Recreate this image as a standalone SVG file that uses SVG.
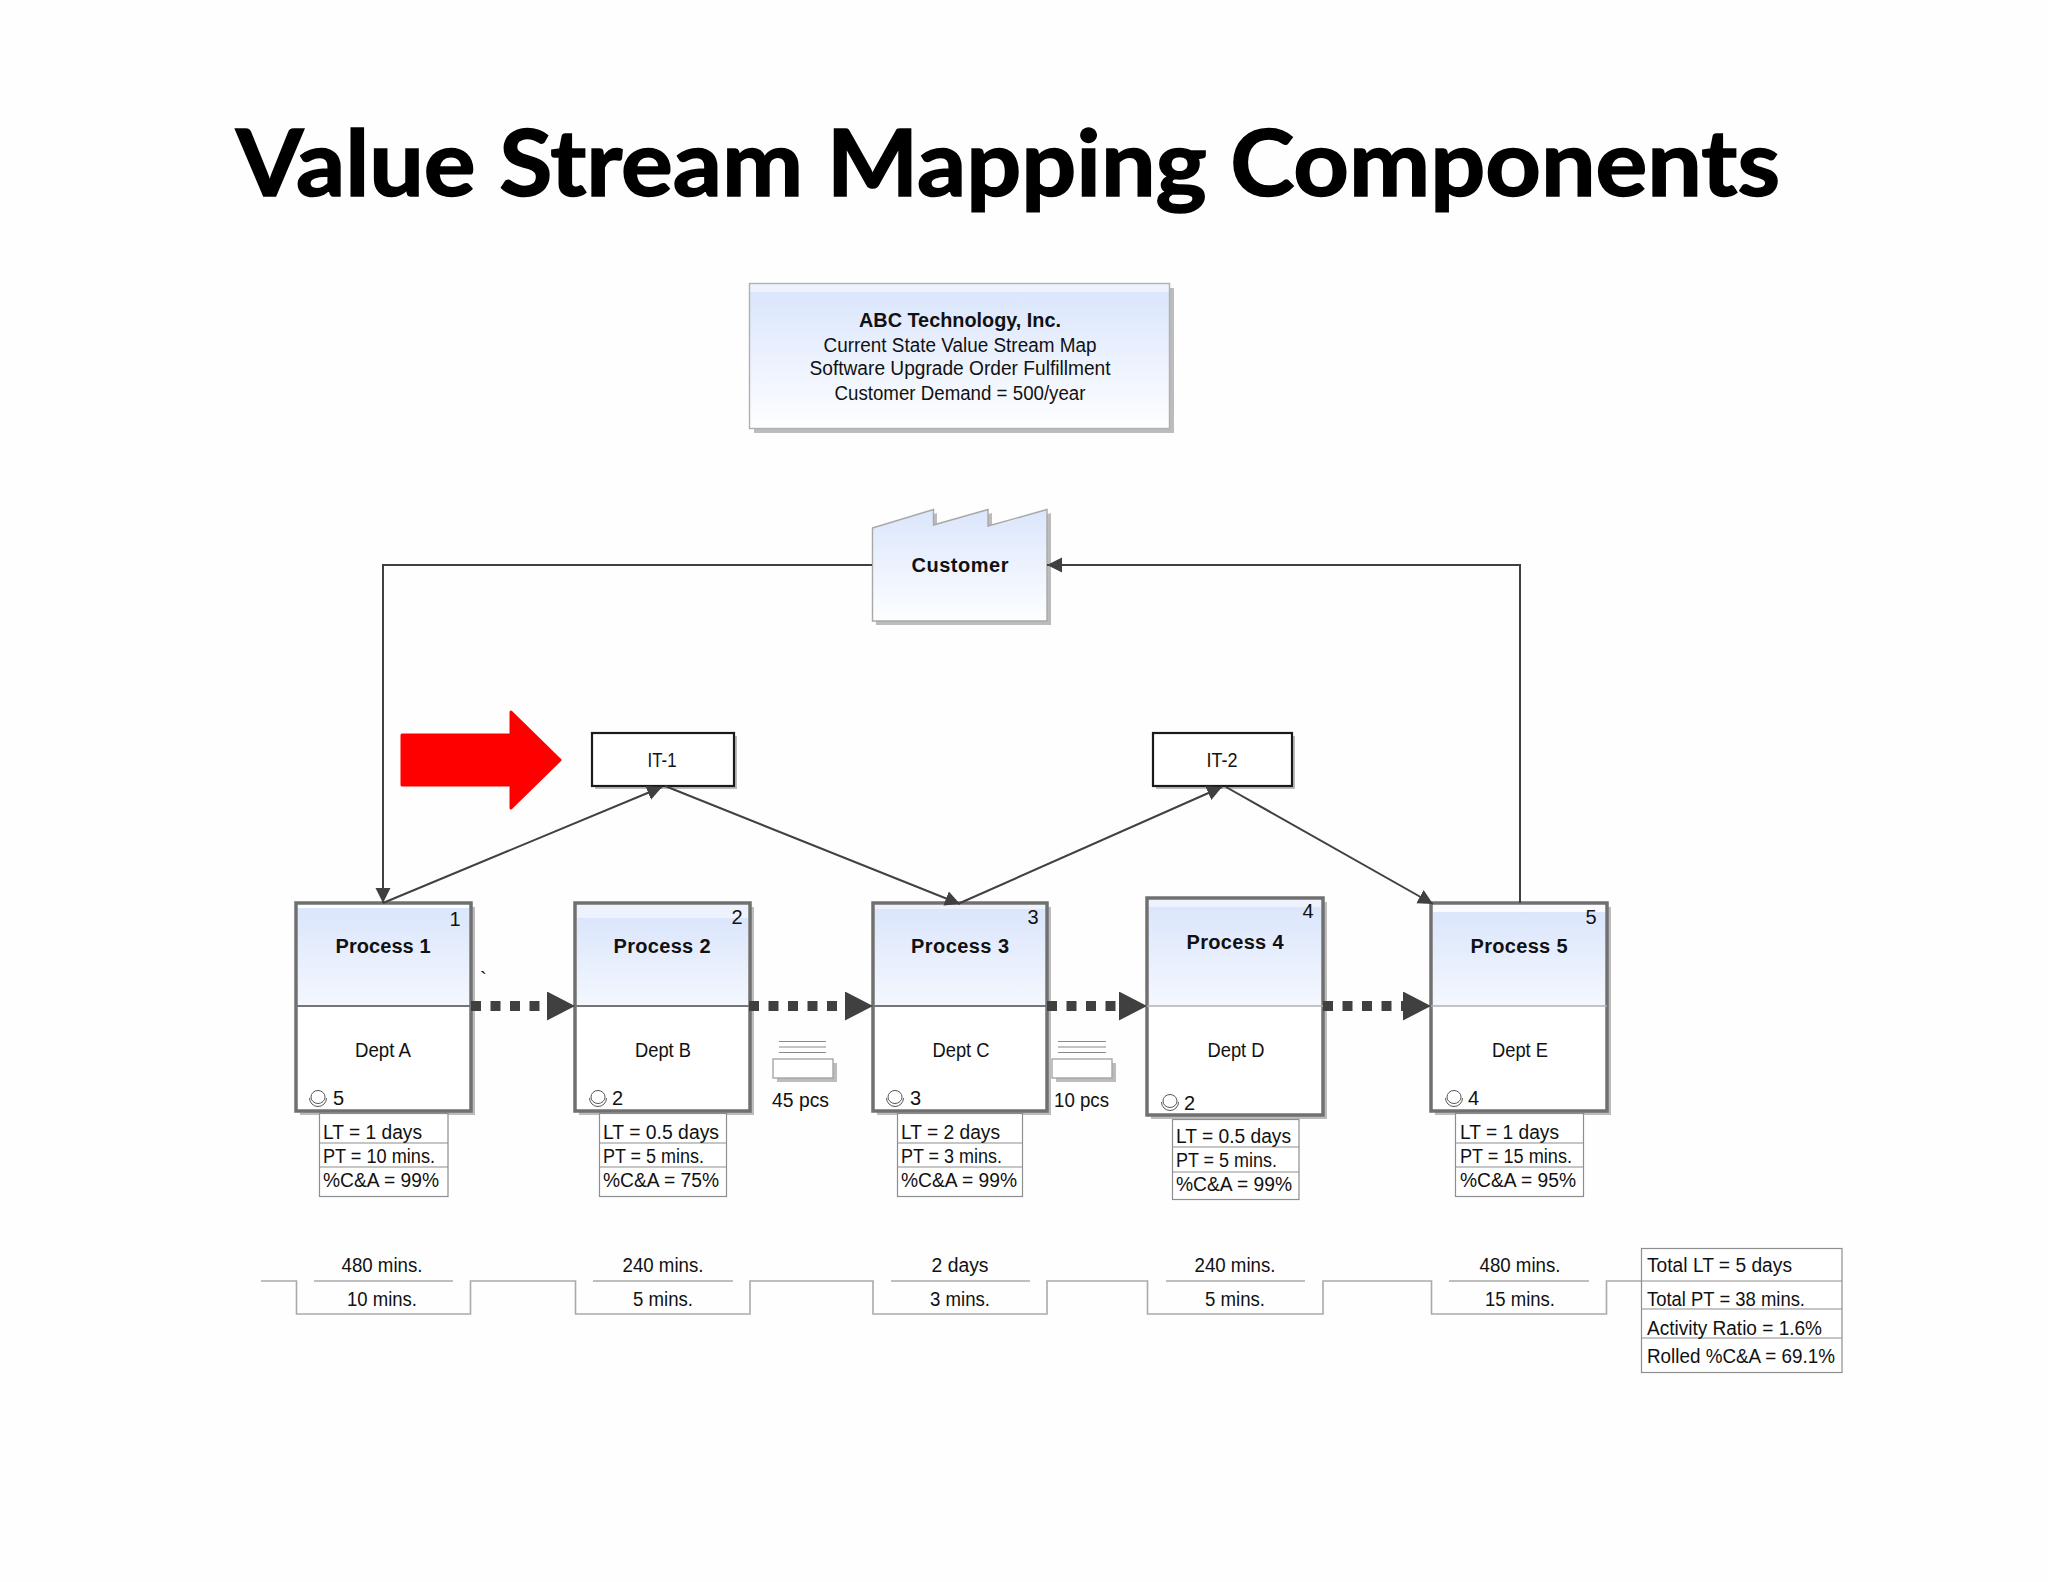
<svg xmlns="http://www.w3.org/2000/svg" width="2048" height="1582" viewBox="0 0 2048 1582">
<style>
text{font-family:"Liberation Sans",Arial,sans-serif;font-size:20px;fill:#111}
.c{text-anchor:middle}
.b{font-weight:bold;font-size:20px}
.title{font-family:Lato,"Open Sans",sans-serif;font-weight:bold;font-size:91px;fill:#000;stroke:#000;stroke-width:1.5}
.sh{fill:#bcbcbc}
.proc{fill:none;stroke:#707070;stroke-width:3.5}
.white{fill:#fff}
.cell{fill:#fff;stroke:#8e8e8e;stroke-width:1.2}
.rule{fill:none;stroke:#8e8e8e;stroke-width:1.2}
.tl{fill:none;stroke:#aaa;stroke-width:1.6}
.inv{fill:#fff;stroke:#a6a6a6;stroke-width:1.4}
.invl{stroke:#888;stroke-width:1.2}
.it{fill:#fff;stroke:#1a1a1a;stroke-width:2.2}
.flow{fill:none;stroke:#404040;stroke-width:2}
.push{fill:none;stroke:#404040;stroke-width:10;stroke-dasharray:10 9.5;marker-end:url(#big)}
.op{fill:#fff;stroke:#555;stroke-width:1}
.opa{fill:none;stroke:#555;stroke-width:1}
</style>
<defs>
<linearGradient id="g" x1="0" y1="0" x2="0" y2="1"><stop offset="0" stop-color="#dbe6fc"/><stop offset="1" stop-color="#f4f7fe"/></linearGradient>
<linearGradient id="g2" x1="0" y1="0" x2="0" y2="1"><stop offset="0" stop-color="#dbe6fc"/><stop offset="1" stop-color="#fdfeff"/></linearGradient>
<marker id="small" markerUnits="userSpaceOnUse" markerWidth="16" markerHeight="16" refX="15" refY="7.500" orient="auto"><path d="M0 0L15 7.500L0 15Z" fill="#404040"/></marker>
<marker id="big" markerUnits="userSpaceOnUse" markerWidth="30" markerHeight="30" refX="0" refY="14.500" orient="auto"><path d="M0 0L28 14.500L0 29Z" fill="#404040"/></marker>
</defs>
<rect width="2048" height="1582" fill="#fefefe"/>
<text class="title" x="236" y="196" textLength="1544" lengthAdjust="spacingAndGlyphs">Value Stream Mapping Components</text>

<g id="title-box">
<rect class="sh" x="754" y="288" width="420" height="145"/>
<rect x="749.500" y="283.500" width="420" height="145" fill="#edf2fc"/>
<rect x="750" y="292" width="419" height="136" fill="url(#g2)"/>
<rect x="749.500" y="283.500" width="420" height="145" fill="none" stroke="#b0b0b0" stroke-width="1.4"/>
<text class="c" x="960" y="327" style="font-weight:bold" textLength="202" lengthAdjust="spacingAndGlyphs">ABC Technology, Inc.</text>
<text class="c" x="960" y="352" textLength="273" lengthAdjust="spacingAndGlyphs">Current State Value Stream Map</text>
<text class="c" x="960" y="375" textLength="301" lengthAdjust="spacingAndGlyphs">Software Upgrade Order Fulfillment</text>
<text class="c" x="960" y="400" textLength="251" lengthAdjust="spacingAndGlyphs">Customer Demand = 500/year</text>
</g>

<g id="customer">
<path class="sh" d="M876 532L937 513V529L992 513V530L1051 513V625H876Z"/>
<path d="M872.500 528L933.500 509.500V525L988 509.500V526L1047 509.500V621H872.500Z" fill="url(#g2)" stroke="#a8a8a8" stroke-width="1.4"/>
<text class="c b" x="960" y="572" textLength="97">Customer</text>
</g>

<g id="process-1">
<rect class="sh" x="300" y="907" width="175" height="208"/>
<rect class="white" x="296" y="903" width="175" height="208"/>
<rect x="298" y="908" width="171" height="98" fill="url(#g)"/>
<rect class="proc" x="296" y="903" width="175" height="208"/>
<line x1="296" y1="1006" x2="471" y2="1006" stroke="#757575" stroke-width="2"/>
<text class="c b" x="383" y="953" textLength="95">Process 1</text>
<text class="c" x="455" y="926">1</text>
<text class="c" x="383" y="1057" textLength="56" lengthAdjust="spacingAndGlyphs">Dept A</text>
<ellipse class="op" cx="318" cy="1097" rx="7" ry="6.500"/>
<path class="opa" d="M309.500 1098A8.500 8.500 0 0 0 326.500 1098"/>
<text x="333" y="1105">5</text>
<rect class="cell" x="319.500" y="1113.500" width="128.500" height="83"/>
<path class="rule" d="M319.500 1143H448M319.500 1167H448"/>
<text x="323" y="1139" textLength="99" lengthAdjust="spacingAndGlyphs">LT = 1 days</text>
<text x="323" y="1163" textLength="112" lengthAdjust="spacingAndGlyphs">PT = 10 mins.</text>
<text x="323" y="1187" textLength="116" lengthAdjust="spacingAndGlyphs">%C&amp;A = 99%</text>
</g>

<g id="process-2">
<rect class="sh" x="579" y="907" width="175" height="208"/>
<rect class="white" x="575" y="903" width="175" height="208"/>
<rect x="577" y="905" width="171" height="13" fill="#edf2fc"/>
<rect x="577" y="918" width="171" height="88" fill="url(#g)"/>
<rect class="proc" x="575" y="903" width="175" height="208"/>
<line x1="575" y1="1006" x2="750" y2="1006" stroke="#757575" stroke-width="2"/>
<text class="c b" x="662" y="953" textLength="97">Process 2</text>
<text class="c" x="737" y="924">2</text>
<text class="c" x="663" y="1057" textLength="56" lengthAdjust="spacingAndGlyphs">Dept B</text>
<ellipse class="op" cx="598" cy="1097" rx="7" ry="6.500"/>
<path class="opa" d="M589.500 1098A8.500 8.500 0 0 0 606.500 1098"/>
<text x="612" y="1105">2</text>
<rect class="cell" x="599.500" y="1113.500" width="127" height="83"/>
<path class="rule" d="M599.500 1143H726.500M599.500 1167H726.500"/>
<text x="603" y="1139" textLength="116" lengthAdjust="spacingAndGlyphs">LT = 0.5 days</text>
<text x="603" y="1163" textLength="101" lengthAdjust="spacingAndGlyphs">PT = 5 mins.</text>
<text x="603" y="1187" textLength="116" lengthAdjust="spacingAndGlyphs">%C&amp;A = 75%</text>
</g>

<g id="process-3">
<rect class="sh" x="877" y="907" width="174" height="208"/>
<rect class="white" x="873" y="903" width="174" height="208"/>
<rect x="875" y="905" width="170" height="4" fill="#edf2fc"/>
<rect x="875" y="909" width="170" height="97" fill="url(#g)"/>
<rect class="proc" x="873" y="903" width="174" height="208"/>
<line x1="873" y1="1006" x2="1047" y2="1006" stroke="#757575" stroke-width="2"/>
<text class="c b" x="960" y="953" textLength="98">Process 3</text>
<text class="c" x="1033" y="924">3</text>
<text class="c" x="961" y="1057" textLength="57" lengthAdjust="spacingAndGlyphs">Dept C</text>
<ellipse class="op" cx="895" cy="1097" rx="7" ry="6.500"/>
<path class="opa" d="M886.500 1098A8.500 8.500 0 0 0 903.500 1098"/>
<text x="910" y="1105">3</text>
<rect class="cell" x="897.500" y="1113.500" width="125" height="83"/>
<path class="rule" d="M897.500 1143H1022.500M897.500 1167H1022.500"/>
<text x="901" y="1139" textLength="99" lengthAdjust="spacingAndGlyphs">LT = 2 days</text>
<text x="901" y="1163" textLength="101" lengthAdjust="spacingAndGlyphs">PT = 3 mins.</text>
<text x="901" y="1187" textLength="116" lengthAdjust="spacingAndGlyphs">%C&amp;A = 99%</text>
</g>

<g id="process-4">
<rect class="sh" x="1151" y="902" width="176" height="217"/>
<rect class="white" x="1147" y="898" width="176" height="217"/>
<rect x="1149" y="900" width="172" height="7" fill="#edf2fc"/>
<rect x="1149" y="907" width="172" height="99" fill="url(#g)"/>
<rect class="proc" x="1147" y="898" width="176" height="217"/>
<line x1="1147" y1="1006" x2="1323" y2="1006" stroke="#b0b0b0" stroke-width="1.6"/>
<text class="c b" x="1235" y="949" textLength="97">Process 4</text>
<text class="c" x="1308" y="918">4</text>
<text class="c" x="1236" y="1057" textLength="57" lengthAdjust="spacingAndGlyphs">Dept D</text>
<ellipse class="op" cx="1170" cy="1101" rx="7" ry="6.500"/>
<path class="opa" d="M1161.500 1102A8.500 8.500 0 0 0 1178.500 1102"/>
<text x="1184" y="1110">2</text>
<rect class="cell" x="1172.500" y="1119.500" width="126.500" height="80"/>
<path class="rule" d="M1172.500 1147H1299M1172.500 1172H1299"/>
<text x="1176" y="1143" textLength="115" lengthAdjust="spacingAndGlyphs">LT = 0.5 days</text>
<text x="1176" y="1167" textLength="101" lengthAdjust="spacingAndGlyphs">PT = 5 mins.</text>
<text x="1176" y="1191" textLength="116" lengthAdjust="spacingAndGlyphs">%C&amp;A = 99%</text>
</g>

<g id="process-5">
<rect class="sh" x="1435" y="907" width="176" height="208"/>
<rect class="white" x="1431" y="903" width="176" height="208"/>
<rect x="1433" y="905" width="172" height="7" fill="#fafbfe"/>
<rect x="1433" y="912" width="172" height="94" fill="url(#g)"/>
<rect class="proc" x="1431" y="903" width="176" height="208"/>
<line x1="1431" y1="1006" x2="1607" y2="1006" stroke="#b0b0b0" stroke-width="1.600"/>
<text class="c b" x="1519" y="953" textLength="97">Process 5</text>
<text class="c" x="1591" y="924">5</text>
<text class="c" x="1520" y="1057" textLength="56" lengthAdjust="spacingAndGlyphs">Dept E</text>
<ellipse class="op" cx="1454" cy="1097" rx="7" ry="6.500"/>
<path class="opa" d="M1445.500 1098A8.500 8.500 0 0 0 1462.500 1098"/>
<text x="1468" y="1105">4</text>
<rect class="cell" x="1455.500" y="1113.500" width="128" height="83"/>
<path class="rule" d="M1455.500 1143H1583.500M1455.500 1167H1583.500"/>
<text x="1460" y="1139" textLength="99" lengthAdjust="spacingAndGlyphs">LT = 1 days</text>
<text x="1460" y="1163" textLength="112" lengthAdjust="spacingAndGlyphs">PT = 15 mins.</text>
<text x="1460" y="1187" textLength="116" lengthAdjust="spacingAndGlyphs">%C&amp;A = 95%</text>
</g>

<g id="it-1">
<rect class="sh" x="595" y="736" width="142" height="53"/>
<rect class="it" x="592" y="733" width="142" height="53"/>
<text class="c" x="662" y="767" textLength="29" lengthAdjust="spacingAndGlyphs">IT-1</text>
</g>
<g id="it-2">
<rect class="sh" x="1156" y="736" width="139" height="53"/>
<rect class="it" x="1153" y="733" width="139" height="53"/>
<text class="c" x="1222" y="767" textLength="31" lengthAdjust="spacingAndGlyphs">IT-2</text>
</g>

<g id="red-arrow">
<path d="M402 735H511V712L560 760L511 808V785H402Z" fill="#f00" stroke="#f00" stroke-width="3" stroke-linejoin="round"/>
</g>

<g id="inventory-1">
<path class="invl" d="M779 1041.500H826M779 1047H826M779 1052.500H826"/>
<rect class="sh" x="777" y="1063" width="60" height="19"/>
<rect class="inv" x="773" y="1059" width="60" height="19"/>
<text x="772" y="1107" textLength="57" lengthAdjust="spacingAndGlyphs">45 pcs</text>
</g>
<g id="inventory-2">
<path class="invl" d="M1058 1041.500H1106M1058 1047H1106M1058 1052.500H1106"/>
<rect class="sh" x="1056" y="1063" width="60" height="19"/>
<rect class="inv" x="1052" y="1059" width="60" height="19"/>
<text x="1054" y="1107" textLength="55" lengthAdjust="spacingAndGlyphs">10 pcs</text>
</g>

<text x="480" y="986">`</text>

<g id="timeline">
<path class="tl" d="M261 1281H296.500V1314H470.500V1281H575.500V1314H750V1281H873V1314H1047V1281H1147.500V1314H1323V1281H1431.500V1314H1606.500V1281H1641"/>
<path class="tl" d="M314 1281H453M593 1281H733M891 1281H1030M1166 1281H1305M1449 1281H1589"/>
<text class="c" x="382" y="1272" textLength="81" lengthAdjust="spacingAndGlyphs">480 mins.</text>
<text class="c" x="382" y="1306" textLength="70" lengthAdjust="spacingAndGlyphs">10 mins.</text>
<text class="c" x="663" y="1272" textLength="81" lengthAdjust="spacingAndGlyphs">240 mins.</text>
<text class="c" x="663" y="1306" textLength="60" lengthAdjust="spacingAndGlyphs">5 mins.</text>
<text class="c" x="960" y="1272" textLength="57" lengthAdjust="spacingAndGlyphs">2 days</text>
<text class="c" x="960" y="1306" textLength="60" lengthAdjust="spacingAndGlyphs">3 mins.</text>
<text class="c" x="1235" y="1272" textLength="81" lengthAdjust="spacingAndGlyphs">240 mins.</text>
<text class="c" x="1235" y="1306" textLength="60" lengthAdjust="spacingAndGlyphs">5 mins.</text>
<text class="c" x="1520" y="1272" textLength="81" lengthAdjust="spacingAndGlyphs">480 mins.</text>
<text class="c" x="1520" y="1306" textLength="70" lengthAdjust="spacingAndGlyphs">15 mins.</text>
</g>

<g id="totals">
<rect class="cell" x="1641.500" y="1248.500" width="200.500" height="124"/>
<path class="rule" d="M1641.500 1281H1842M1641.500 1309H1842M1641.500 1338H1842"/>
<text x="1647" y="1272" textLength="145" lengthAdjust="spacingAndGlyphs">Total LT = 5 days</text>
<text x="1647" y="1306" textLength="158" lengthAdjust="spacingAndGlyphs">Total PT = 38 mins.</text>
<text x="1647" y="1335" textLength="175" lengthAdjust="spacingAndGlyphs">Activity Ratio = 1.6%</text>
<text x="1647" y="1363" textLength="188" lengthAdjust="spacingAndGlyphs">Rolled %C&amp;A = 69.1%</text>
</g>

<g id="connectors">
<path class="flow" d="M872 565H383V903" marker-end="url(#small)"/>
<path class="flow" d="M1520 903V565H1047" marker-end="url(#small)"/>
<path class="flow" d="M383 903L662 787" marker-end="url(#small)"/>
<path class="flow" d="M665 786L960 904" marker-end="url(#small)"/>
<path class="flow" d="M960 903L1222 787" marker-end="url(#small)"/>
<path class="flow" d="M1226 787L1433 904" marker-end="url(#small)"/>
<line class="push" x1="471" y1="1006" x2="547" y2="1006"/>
<line class="push" x1="749" y1="1006" x2="845" y2="1006"/>
<line class="push" x1="1047" y1="1006" x2="1119" y2="1006"/>
<line class="push" x1="1323" y1="1006" x2="1403" y2="1006"/>
</g>
</svg>
